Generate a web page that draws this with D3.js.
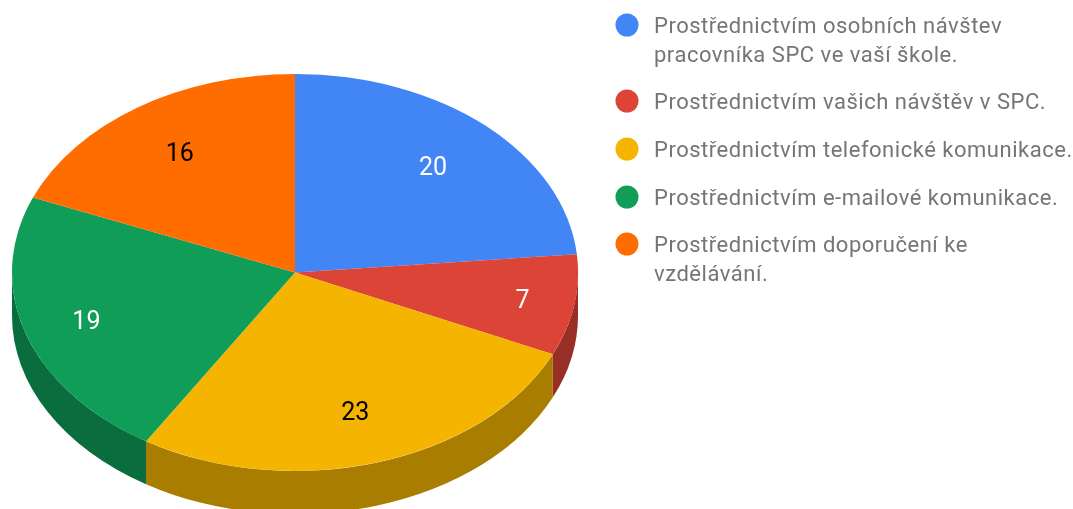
<!DOCTYPE html>
<html><head><meta charset="utf-8">
<script src="https://cdn.jsdelivr.net/npm/d3@7/dist/d3.min.js"></script>
<style>html,body{margin:0;padding:0;background:#fff;overflow:hidden}svg{display:block;filter:blur(.45px)}</style>
</head><body><div id="chart"></div>
<script>
const categories = [
  ["Prostřednictvím osobních návštev","pracovníka SPC ve vaší škole."],
  ["Prostřednictvím vašich návštěv v SPC."],
  ["Prostřednictvím telefonické komunikace."],
  ["Prostřednictvím e-mailové komunikace."],
  ["Prostřednictvím doporučení ke","vzdělávání."]
];
const values = [20, 7, 23, 19, 16];
const colors = ["#4285F4","#DB4437","#F4B400","#0F9D58","#FF6D00"];
const labelColors = ["#fff","#fff","#000","#fff","#000"];

const W = 1073, H = 509, cx = 295, cy = 272.5, rx = 283, ry = 198.5, depth = 43;
const labelRadius = [0.724, 0.815, 0.73, 0.775, 0.73];
const legendY = [25, 101, 149, 197, 244];

const svg = d3.select("#chart").append("svg").attr("width", W).attr("height", H);
const arcs = d3.pie().sort(null)(values);
const px = a => cx + rx * Math.sin(a), py = a => cy - ry * Math.cos(a);

const wall = svg.append("g");
arcs.forEach((d, i) => {
  const a = Math.max(d.startAngle, Math.PI / 2), b = Math.min(d.endAngle, 3 * Math.PI / 2);
  if (b <= a) return;
  const large = b - a > Math.PI ? 1 : 0;
  const p = `M${px(a)},${py(a)}A${rx},${ry} 0 ${large} 1 ${px(b)},${py(b)}` +
            `L${px(b)},${py(b)+depth}A${rx},${ry} 0 ${large} 0 ${px(a)},${py(a)+depth}Z`;
  wall.append("path").attr("d", p).attr("fill", d3.color(colors[i]).darker(1.03).formatHex());
});

const arc = d3.arc().innerRadius(0).outerRadius(1);
svg.append("g").attr("transform", `translate(${cx},${cy}) scale(${rx},${ry})`)
  .selectAll("path").data(arcs).join("path")
  .attr("d", arc).attr("fill", (d, i) => colors[i]);

svg.append("g").selectAll("text").data(arcs).join("text")
  .attr("x", (d, i) => cx + labelRadius[i] * rx * Math.sin((d.startAngle + d.endAngle) / 2))
  .attr("y", (d, i) => cy - labelRadius[i] * ry * Math.cos((d.startAngle + d.endAngle) / 2))
  .attr("text-anchor", "middle").attr("dominant-baseline", "central")
  .attr("font-family", "Roboto").attr("font-size", 25)
  .attr("fill", (d, i) => labelColors[i]).text(d => d.value);

const leg = svg.append("g").selectAll("g").data(categories).join("g")
  .attr("transform", (d, i) => `translate(0,${legendY[i]})`);
leg.append("circle").attr("cx", 627).attr("cy", 0).attr("r", 11.5).attr("fill", (d, i) => colors[i]);
leg.each(function (lines) {
  d3.select(this).selectAll("text").data(lines).join("text")
    .attr("x", 654).attr("y", (l, j) => j * 29)
    .attr("dominant-baseline", "central")
    .attr("font-family", "Roboto").attr("font-size", 22).attr("letter-spacing", 0.52)
    .attr("fill", "#757575").text(l => l);
});
</script></body></html>
